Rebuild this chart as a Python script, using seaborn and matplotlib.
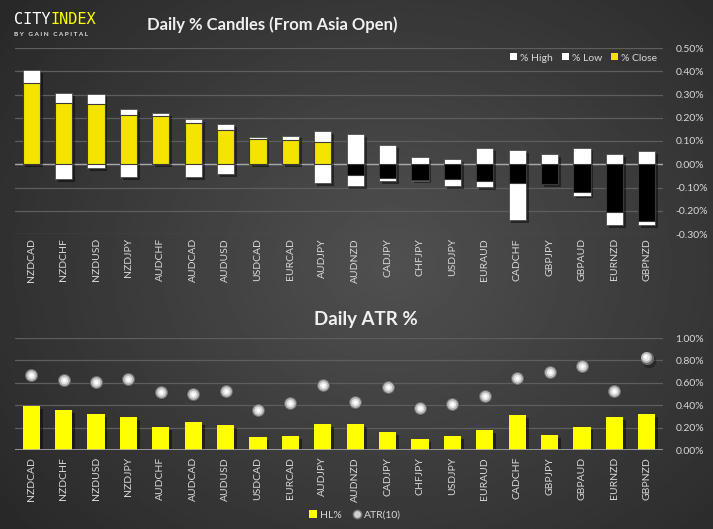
import numpy as np
import pandas as pd
import matplotlib
matplotlib.use('Agg')
import matplotlib.pyplot as plt
import seaborn as sns
from matplotlib import patheffects as pe
from matplotlib.patches import Patch
from matplotlib.lines import Line2D
from matplotlib.ticker import FuncFormatter
from matplotlib.transforms import ScaledTranslation

pairs = ['NZDCAD', 'NZDCHF', 'NZDUSD', 'NZDJPY', 'AUDCHF', 'AUDCAD', 'AUDUSD',
         'USDCAD', 'EURCAD', 'AUDJPY', 'AUDNZD', 'CADJPY', 'CHFJPY', 'USDJPY',
         'EURAUD', 'CADCHF', 'GBPJPY', 'GBPAUD', 'EURNZD', 'GBPNZD']
high = [0.405, 0.307, 0.302, 0.237, 0.221, 0.194, 0.173, 0.118, 0.123, 0.144,
        0.130, 0.083, 0.031, 0.023, 0.070, 0.061, 0.044, 0.070, 0.044, 0.057]
low = [0.0, -0.063, -0.017, -0.054, 0.0, -0.054, -0.042, 0.0, 0.0, -0.080,
       -0.093, -0.072, -0.070, -0.093, -0.097, -0.239, -0.085, -0.135, -0.263, -0.263]
close = [0.348, 0.262, 0.257, 0.210, 0.206, 0.176, 0.146, 0.107, 0.103, 0.094,
         -0.046, -0.060, -0.066, -0.063, -0.073, -0.080, -0.085, -0.120, -0.206, -0.246]
hl = [0.392, 0.356, 0.320, 0.293, 0.204, 0.248, 0.222, 0.114, 0.123, 0.231,
      0.231, 0.159, 0.096, 0.123, 0.177, 0.311, 0.132, 0.204, 0.293, 0.320]
atr = [0.670, 0.625, 0.607, 0.634, 0.518, 0.500, 0.527, 0.356, 0.419, 0.580,
       0.428, 0.562, 0.374, 0.410, 0.482, 0.643, 0.697, 0.750, 0.527, 0.822]
top_ticks = [-0.3, -0.2, -0.1, 0.0, 0.1, 0.2, 0.3, 0.4, 0.5]
bottom_ticks = [0.0, 0.2, 0.4, 0.6, 0.8, 1.0]

n = len(pairs)

YELLOW = '#f5e400'
YELLOW2 = '#ffff00'
TXT = '#d9d9d9'
GRID = '#5e5e5e'

sns.set_theme(style='dark')
plt.rcParams['font.family'] = ['Lato', 'DejaVu Sans']

fig = plt.figure(figsize=(7.13, 5.29), dpi=100)

# background gradient
bg = fig.add_axes([0, 0, 1, 1], zorder=-10)
yy, xx = np.mgrid[0:1:300j, 0:1:400j]
r = np.sqrt(((xx - 0.55) / 0.8) ** 2 + ((yy - 0.5) / 0.9) ** 2)
val = np.clip(0.315 - 0.18 * r, 0.15, 1)
bg.imshow(val, cmap='gray', vmin=0, vmax=1, extent=[0, 1, 0, 1], aspect='auto')
bg.axis('off')

shadow = [pe.SimplePatchShadow(offset=(2, -2), shadow_rgbFace='black', alpha=0.45), pe.Normal()]
pct = FuncFormatter(lambda v, _: f"{v:.2f}%")


def shift(ax, dx, dy):
    return ax.transData + ScaledTranslation(dx / 72, dy / 72, fig.dpi_scale_trans)


# ---------- top chart ----------
ax1 = fig.add_axes([15 / 713, 1 - 234 / 529, 648 / 713, 186 / 529])
ax1.patch.set_alpha(0)
df = pd.DataFrame({'pair': pairs, 'high': high, 'low': low, 'close': close})
sns.barplot(data=df, x='pair', y='high', color='white', saturation=1, width=0.53,
            edgecolor='#505050', linewidth=0.6, ax=ax1, zorder=3)
sns.barplot(data=df, x='pair', y='low', color='white', saturation=1, width=0.53,
            edgecolor='#505050', linewidth=0.6, ax=ax1, zorder=3)
for p in ax1.patches:
    p.set_path_effects(shadow)
close_cols = [YELLOW if c >= 0 else '#000000' for c in close]
sns.barplot(data=df, x='pair', y='close', hue='pair', palette=close_cols, legend=False,
            dodge=False, saturation=1, width=0.53, edgecolor='#3a3a3a', linewidth=0.8,
            ax=ax1, zorder=4)
ax1.set_ylim(-0.3, 0.5)
ax1.set_xlim(-0.5, n - 0.5)
ax1.set_yticks(top_ticks)
ax1.yaxis.set_major_formatter(pct)
ax1.yaxis.tick_right()
ax1.grid(axis='y', color=GRID, lw=0.9)
ax1.grid(axis='x', visible=False)
ax1.set_axisbelow(True)
ax1.axhline(0, color='#a8a8a8', lw=1, zorder=2)
for s in ax1.spines.values():
    s.set_visible(False)
ax1.set_xlabel('')
ax1.set_ylabel('')
ax1.tick_params(axis='y', length=0, pad=9, labelsize=7.5, labelcolor=TXT)
ax1.tick_params(axis='x', length=0, pad=3, labelsize=7.5, labelcolor=TXT, rotation=90)

# ---------- bottom chart ----------
ax2 = fig.add_axes([15 / 713, 1 - 450 / 529, 648 / 713, 112 / 529])
ax2.patch.set_alpha(0)
df2 = pd.DataFrame({'pair': pairs, 'hl': hl, 'atr': atr})
sns.barplot(data=df2, x='pair', y='hl', color=YELLOW2, saturation=1, width=0.53,
            linewidth=0, ax=ax2, zorder=3)
for p in ax2.patches:
    p.set_path_effects(shadow)
layers = [(9.8, '#151515', 0.45, 1.5, -2.0, 4),
          (9.5, '#6a6a6a', 1.0, 0.0, 0.0, 5),
          (7.8, '#b8b8b8', 1.0, -0.4, 0.5, 6),
          (5.2, '#e6e6e6', 1.0, -0.9, 1.0, 7),
          (2.6, '#ffffff', 1.0, -1.3, 1.5, 8)]
for size, col, alpha, dx, dy, z in layers:
    sns.stripplot(data=df2, x='pair', y='atr', jitter=False, size=size, color=col,
                  alpha=alpha, linewidth=0, ax=ax2, zorder=z)
    ax2.collections[-1].set_offset_transform(shift(ax2, dx, dy))
ax2.set_ylim(0, 1.0)
ax2.set_xlim(-0.5, n - 0.5)
ax2.set_yticks(bottom_ticks)
ax2.yaxis.set_major_formatter(pct)
ax2.yaxis.tick_right()
ax2.grid(axis='y', color=GRID, lw=0.9)
ax2.grid(axis='x', visible=False)
ax2.set_axisbelow(True)
ax2.axhline(0, color='#a8a8a8', lw=1.2, zorder=4)
for s in ax2.spines.values():
    s.set_visible(False)
ax2.set_xlabel('')
ax2.set_ylabel('')
ax2.tick_params(axis='y', length=0, pad=9, labelsize=7.5, labelcolor=TXT)
ax2.tick_params(axis='x', length=0, pad=5, labelsize=7.5, labelcolor=TXT, rotation=90)

# ---------- titles / legends ----------
fig.text(272 / 713, 1 - 25 / 529, 'Daily % Candles (From Asia Open)', ha='center', va='center',
         fontsize=12, fontweight='bold', color='#f0f0f0')
fig.text(366 / 713, 1 - 320 / 529, 'Daily ATR %', ha='center', va='center',
         fontsize=13.5, fontweight='bold', color='#f0f0f0')

t_city = fig.text(14 / 713, 1 - 19 / 529, 'CITY', ha='left', va='center', fontsize=11,
                  family='DejaVu Sans Mono', color='white')
fig.canvas.draw()
bb = t_city.get_window_extent()
fig.text(bb.x1 / fig.bbox.width, 1 - 19 / 529, 'INDEX', ha='left', va='center', fontsize=11,
         family='DejaVu Sans Mono', color=YELLOW2)
fig.text(14 / 713, 1 - 34 / 529, 'B Y   G A I N   C A P I T A L', ha='left', va='center',
         fontsize=4.6, fontweight='bold', color='#e0e0e0')

h1 = [Patch(fc='white', ec='none', label='% High'),
      Patch(fc='white', ec='none', label='% Low'),
      Patch(fc=YELLOW, ec='none', label='% Close')]
fig.legend(handles=h1, ncol=3, loc='center right', bbox_to_anchor=(0.922, 1 - 58 / 529),
           frameon=False, fontsize=7.5, labelcolor=TXT, handlelength=0.65, handleheight=0.65,
           handletextpad=0.3, columnspacing=0.9, borderaxespad=0, borderpad=0)
h2 = [Patch(fc=YELLOW2, ec='none', label='HL%'),
      Line2D([], [], ls='none', marker='o', markersize=6, mfc='#cfcfcf', mec='#777777',
             label='ATR(10)')]
fig.legend(handles=h2, ncol=2, loc='center', bbox_to_anchor=(355 / 713, 1 - 515 / 529),
           frameon=False, fontsize=7.5, labelcolor=TXT, handlelength=0.8, handleheight=0.8,
           handletextpad=0.3, columnspacing=1.0, borderaxespad=0, borderpad=0)

fig.savefig('out.png', dpi=100)
